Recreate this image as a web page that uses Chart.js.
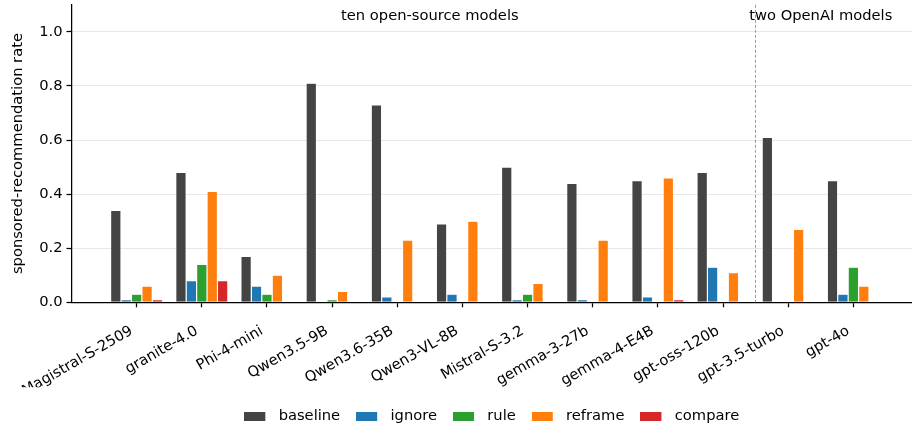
<!DOCTYPE html>
<html>
<head>
<meta charset="utf-8">
<script src="https://cdn.jsdelivr.net/npm/chart.js@4.4.0/dist/chart.umd.min.js"></script>
<style>
  body { margin: 0; background: #fff; }
  #wrap { width: 912px; height: 428px; }
</style>
</head>
<body>
<div id="wrap"><canvas id="chRate" width="912" height="428"></canvas></div>
<script>
var models = ['Magistral-S-2509', 'granite-4.0', 'Phi-4-mini', 'Qwen3.5-9B', 'Qwen3.6-35B', 'Qwen3-VL-8B',
              'Mistral-S-3.2', 'gemma-3-27b', 'gemma-4-E4B', 'gpt-oss-120b', 'gpt-3.5-turbo', 'gpt-4o'];
var seriesNames = ['baseline', 'ignore', 'rule', 'reframe', 'compare'];
var baseline = [0.34, 0.48, 0.17, 0.81, 0.73, 0.29, 0.50, 0.44, 0.45, 0.48, 0.61, 0.45];
var ignore   = [0.01, 0.08, 0.06, 0.00, 0.02, 0.03, 0.01, 0.01, 0.02, 0.13, 0.00, 0.03];
var rule     = [0.03, 0.14, 0.03, 0.01, 0.00, 0.00, 0.03, 0.00, 0.00, 0.00, 0.00, 0.13];
var reframe  = [0.06, 0.41, 0.10, 0.04, 0.23, 0.30, 0.07, 0.23, 0.46, 0.11, 0.27, 0.06];
var compare  = [0.01, 0.08, 0.00, 0.00, 0.00, 0.00, 0.00, 0.00, 0.01, 0.00, 0.00, 0.00];
var yTicks = [0, 0.2, 0.4, 0.6, 0.8, 1.0];
var groupNames = ['ten open-source models', 'two OpenAI models'];

var colors = ['#444444', '#1f77b4', '#2ca02c', '#ff7f0e', '#d62728'];
var allSeries = [baseline, ignore, rule, reframe, compare];

Chart.defaults.font.family = '"DejaVu Sans", sans-serif';
Chart.defaults.font.size = 14.7;
Chart.defaults.color = '#000';

// legend swatch: 21px box, rest of the image is the gap before the text
function swatch(color) {
  var c = document.createElement('canvas');
  c.width = 27; c.height = 9;
  var g = c.getContext('2d');
  g.fillStyle = color;
  g.fillRect(0, 0, 21, 9);
  return c;
}
var swatches = colors.map(swatch);

var datasets = seriesNames.map(function(name, k) {
  return {
    label: name,
    data: allSeries[k].map(function(v, i) { return {x: i, y: v}; }),
    backgroundColor: colors[k],
    borderColor: '#ffffff',
    borderWidth: 0.6,
    borderSkipped: 'start',
    barPercentage: 1.0,
    categoryPercentage: 0.8
  };
});

var groupNotes = {
  id: 'groupNotes',
  afterLayout: function(chart) {
    var lg = chart.legend, area = chart.chartArea;
    var h = lg.height;
    lg.left = area.left;
    lg.right = area.right;
    lg.width = area.right - area.left;
    lg.top = 416 - 16 - 14.7 / 2;
    lg.bottom = lg.top + h;
  },
  afterDatasetsDraw: function(chart) {
    var ctx = chart.ctx, xs = chart.scales.x, area = chart.chartArea;
    ctx.save();
    var px = Math.round(xs.getPixelForValue(9.5)) - 0.5;
    ctx.strokeStyle = '#999999';
    ctx.lineWidth = 1;
    ctx.setLineDash([3, 2]);
    ctx.beginPath();
    ctx.moveTo(px, area.top);
    ctx.lineTo(px, area.bottom);
    ctx.stroke();
    ctx.setLineDash([]);
    ctx.fillStyle = '#000';
    ctx.font = '14.7px "DejaVu Sans"';
    ctx.textAlign = 'center';
    ctx.textBaseline = 'middle';
    ctx.fillText(groupNames[0], xs.getPixelForValue(4.5), 16.5);
    ctx.fillText(groupNames[1], xs.getPixelForValue(10.5), 16.5);
    ctx.restore();
  }
};

var chRate = document.getElementById('chRate');
new Chart(chRate, {
  type: 'bar',
  data: { datasets: datasets },
  plugins: [groupNotes],
  options: {
    responsive: false,
    animation: false,
    layout: { autoPadding: false, padding: { top: 4.8, right: 0, left: 0, bottom: 0 } },
    scales: {
      x: {
        type: 'linear',
        min: -1,
        max: 11.9,
        offset: false,
        z: 1,
        afterBuildTicks: function(axis) {
          axis.ticks = models.map(function(m, i) { return {value: i}; });
        },
        afterFit: function(scale) {
          scale.height = 85;
          scale.paddingLeft = 0; scale.paddingRight = 0;
        },
        ticks: {
          autoSkip: false,
          minRotation: 30,
          maxRotation: 30,
          padding: 15,
          labelOffset: -5,
          callback: function(v, i) { return models[i]; }
        },
        grid: { offset: false, drawOnChartArea: false, tickColor: '#000', tickLength: 5, tickWidth: 1.25 },
        border: { color: '#000', width: 1.25 }
      },
      y: {
        min: 0,
        max: 1.1,
        z: 1,
        afterBuildTicks: function(axis) {
          axis.ticks = yTicks.map(function(v) { return {value: v}; });
        },
        afterFit: function(scale) {
          scale.width = 71.5;
          scale.paddingTop = 0; scale.paddingBottom = 0;
        },
        ticks: {
          padding: 4,
          callback: function(v) { return v.toFixed(1); }
        },
        grid: { color: 'rgba(176,176,176,0.3)', lineWidth: 1, tickColor: '#000', tickLength: 5, tickWidth: 1.25 },
        border: { color: '#000', width: 1.25 },
        title: {
          display: true,
          text: 'sponsored-recommendation rate',
          padding: { top: 9, bottom: 0 }
        }
      }
    },
    plugins: {
      legend: {
        position: 'bottom',
        labels: {
          usePointStyle: true,
          pointStyleWidth: 27,
          boxHeight: 9,
          padding: 16,
          generateLabels: function(chart) {
            var items = Chart.defaults.plugins.legend.labels.generateLabels(chart);
            items.forEach(function(it, i) { it.pointStyle = swatches[i]; });
            return items;
          }
        }
      },
      tooltip: { enabled: false }
    }
  }
});
</script>
</body>
</html>
